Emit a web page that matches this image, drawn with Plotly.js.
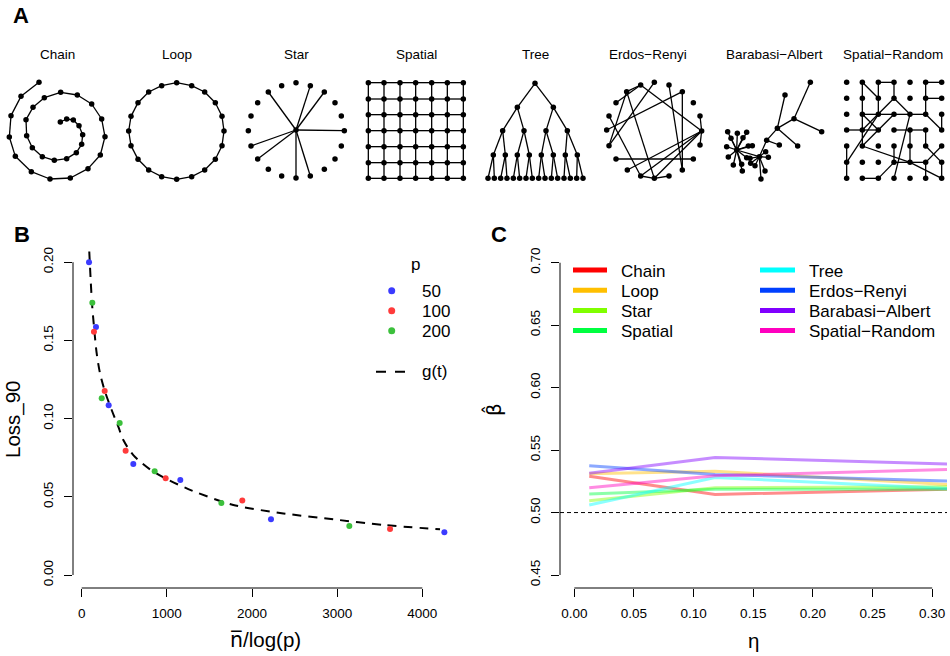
<!DOCTYPE html>
<html><head><meta charset="utf-8">
<script src="https://cdn.plot.ly/plotly-3.0.1.min.js"></script>
<style>html,body{margin:0;padding:0;background:#fff}#chart{width:950px;height:656px}</style>
</head><body><div id="chart"></div>
<script>
// ================= DATA =================
// ---- Panel A: network layouts (node coordinates, local units) ----
const networkNames = ['Chain','Loop','Star','Spatial','Tree','Erdos\u2212Renyi','Barabasi\u2212Albert','Spatial\u2212Random'];

const chainX = [117,63,33,28,46,94,150,211,264,301,315,305,275,232,182,133,99,78,80,97,127,163,200,229,245,248,237,220,200,181];
const chainY = [22,64,122,186,244,290,312,309,281,240,185,132,87,60,52,68,97,134,182,218,245,256,251,233,208,179,152,135,132,141];

const loopX = [530,575,614,646,666,672,666,646,614,575,530,485,446,414,393,386,393,414,446,485];
const loopY = [248,257,276,308,349,393,437,478,510,530,538,530,510,478,437,393,349,308,276,257];

const starX = [168,168,211,253,285,304,313,304,285,253,211,168,125,85,53,33,25,33,53,85,125];
const starY = [270,128,137,156,188,228,272,318,357,388,408,414,408,388,357,318,272,228,188,156,137];
const starEdges = [[0,19],[0,2],[0,3],[0,6],[0,15],[0,14],[0,11],[0,10]];

const spatialCols = [385,432,480,527,575,622,670];
const spatialRows = [128,177,224,272,320,368,415];

const treeX = [165,112,220,68,132,198,262,40,76,112,148,184,220,256,292,
               24,43,62,81,100,119,138,157,176,195,214,233,252,271,290,309];
const treeY = [130,202,202,272,272,272,272,345,345,345,345,345,345,345,345,
               415,415,415,415,415,415,415,415,415,415,415,415,415,415,415,415];
const treeParent = [-1,0,0,1,1,2,2,3,3,4,4,5,5,6,6,7,7,8,8,9,9,10,10,11,11,12,12,13,13,14,14];

const erX = [122,163,207,247,280,300,305,300,280,247,207,163,122,82,48,27,20,27,48,80];
const erY = [30,22,30,50,83,123,168,210,252,285,303,310,303,285,252,212,165,123,83,50];
const erEdges = [[0,6],[0,18],[0,19],[19,11],[19,15],[1,15],[2,9],[3,9],[3,16],[5,6],[6,7],
                 [6,13],[6,12],[6,11],[14,8],[17,12],[12,11],[11,10]];

const baX = [65,133,155,187,237,286,320,210,248,193,38,67,95,48,84,35,100,112,40,55,80,95,105,107,120,152,160,150,138,82];
const baY = [225,245,196,160,131,22,170,60,213,210,170,175,172,190,188,215,213,212,246,270,268,248,250,265,272,230,247,288,312,288];
const baEdges = [[0,1],[1,2],[2,3],[3,4],[4,5],[4,6],[3,7],[3,8],[2,9],
  [0,10],[0,11],[0,12],[0,13],[0,14],[0,15],[0,16],[0,17],[0,18],[0,19],[0,20],[0,21],[0,29],
  [1,22],[1,23],[1,24],[1,25],[1,26],[1,27],[1,28]];

const srCols = [35,82,130,177,225,272,320];
const srRows = [22,70,118,165,213,262,310];
const srEdges = [ // [col,row] pairs
  [[2,0],[3,0]],[[5,0],[6,0]],[[1,0],[1,1]],[[1,0],[2,1]],[[2,0],[2,1]],[[3,0],[3,1]],[[5,0],[5,1]],[[5,1],[6,1]],
  [[1,1],[1,2]],[[2,1],[2,2]],[[3,1],[1,3]],[[3,1],[4,2]],[[5,1],[5,2]],
  [[1,2],[2,2]],[[2,2],[3,2]],[[3,2],[4,2]],[[4,2],[5,2]],[[1,2],[2,3]],[[5,2],[6,3]],[[6,2],[6,3]],[[1,2],[1,3]],
  [[0,3],[1,3]],[[1,3],[2,3]],[[3,3],[4,3]],[[4,3],[5,3]],[[1,3],[1,4]],[[4,3],[4,4]],[[4,4],[4,5]],[[5,3],[5,4]],
  [[0,4],[0,5]],[[0,5],[0,6]],[[0,5],[2,2]],[[1,4],[3,2]],[[1,4],[4,5]],[[3,4],[3,5]],[[5,4],[6,5]],[[6,4],[5,5]],[[4,2],[3,6]],
  [[3,5],[4,5]],[[4,5],[5,5]],[[5,5],[5,6]],[[1,6],[2,6]],[[2,6],[3,5]],[[4,5],[6,6]],[[6,5],[6,6]]
];

// ---- Panel B ----
const pLevels = ['50','100','200'];
const pColors = ['#3b3bff','#ff3b3b','#3cc03c'];
const p50X  = [86,168,317,606,1158,2223,4259];
const p50Y  = [0.200,0.1586,0.1085,0.0710,0.0608,0.0356,0.0273];
const p100X = [144,270,516,986,1886,3621];
const p100Y = [0.1556,0.1177,0.0795,0.0618,0.0477,0.0294];
const p200X = [125,235,446,857,1640,3143];
const p200Y = [0.174,0.113,0.0972,0.0663,0.046,0.0313];
const curveT = [89,121,148,176,215,274,352,430,489,606,841,1233,1780,2368,2955,3542,4208];
const curveG = [0.2068,0.1738,0.1567,0.1418,0.129,0.1172,0.1055,0.0949,0.0863,0.0767,0.0661,0.0554,0.0448,0.0394,0.0356,0.032,0.0292];
const curveName = 'g(t)';

// ---- Panel C ----
const cNames = ['Chain','Loop','Star','Spatial','Tree','Erdos\u2212Renyi','Barabasi\u2212Albert','Spatial\u2212Random'];
const cColors = ['#FF0000','#FFBF00','#80FF00','#00FF40','#00FFFF','#0040FF','#8000FF','#FF00BF'];
const eta = [0.0125,0.118,0.3125];
const betaChain   = [0.529,0.5145,0.5186];
const betaLoop    = [0.531,0.533,0.5225];
const betaStar    = [0.5095,0.5199,0.5207];
const betaSpatial = [0.5148,0.5186,0.5186];
const betaTree    = [0.506,0.5281,0.5193];
const betaER      = [0.5375,0.5305,0.5252];
const betaBA      = [0.5314,0.5441,0.5388];
const betaSR      = [0.5199,0.5295,0.5345];
const refBeta = 0.5;

// ================= LAYOUT HELPERS =================
const FONT = 'Liberation Sans, Arial, Helvetica, sans-serif';
const W = 950, H = 656;
const X = px => px / W, Y = py => 1 - py / H;
const ZOOM = 3;
const cells = [[0,118],[118,237],[237,356],[356,475],[475,594],[594,713],[713,832],[832,950]];
const cellTop = 66, cellBot = 192;
const frames = [[0,75],[0,0],[240,40],[240,40],[480,40],[600,75],[715,75],[835,75]];
const titleCenters = [57,177,296,416,535,648,774,893];

function seqEdges(n, closed){ const e=[]; for(let i=0;i<n-1;i++) e.push([i,i+1]); if(closed) e.push([n-1,0]); return e; }
function grid(cols, rows){ const x=[],y=[]; rows.forEach(r=>cols.forEach(c=>{x.push(c);y.push(r);})); return {x,y}; }
function gridEdges(nc, nr){ const e=[]; for(let r=0;r<nr;r++) for(let c=0;c<nc;c++){ const i=r*nc+c; if(c<nc-1) e.push([i,i+1]); if(r<nr-1) e.push([i,i+nc]); } return e; }

const spG = grid(spatialCols, spatialRows);
const srG = grid(srCols, srRows);
const networks = [
  {x:chainX, y:chainY, edges:seqEdges(chainX.length,false)},
  {x:loopX, y:loopY, edges:seqEdges(loopX.length,true)},
  {x:starX, y:starY, edges:starEdges},
  {x:spG.x, y:spG.y, edges:gridEdges(spatialCols.length, spatialRows.length)},
  {x:treeX, y:treeY, edges:treeParent.map((p,i)=>[p,i]).filter(e=>e[0]>=0)},
  {x:erX, y:erY, edges:erEdges},
  {x:baX, y:baY, edges:baEdges},
  {x:srG.x, y:srG.y, edges:srEdges.map(([a,b])=>[a[1]*srCols.length+a[0], b[1]*srCols.length+b[0]])}
];

const traces = [];
const layout = {
  width: W, height: H, margin:{l:0,r:0,t:0,b:0},
  paper_bgcolor:'#fff', plot_bgcolor:'rgba(0,0,0,0)', showlegend:false,
  font:{family:FONT, color:'#000'}, annotations:[], shapes:[]
};

networks.forEach((net,k)=>{
  const n = k+1, xs = n===1?'':String(n);
  const [c0,c1] = cells[k], [ox,oy] = frames[k];
  layout['xaxis'+xs] = {domain:[X(c0),X(c1)], range:[ZOOM*(c0-ox), ZOOM*(c1-ox)], visible:false, fixedrange:true};
  layout['yaxis'+xs] = {domain:[Y(cellBot),Y(cellTop)], range:[ZOOM*(cellBot-oy), ZOOM*(cellTop-oy)], visible:false, fixedrange:true};
  const ex=[], ey=[];
  net.edges.forEach(([a,b])=>{ ex.push(net.x[a],net.x[b],null); ey.push(net.y[a],net.y[b],null); });
  traces.push({type:'scatter', mode:'lines', x:ex, y:ey, xaxis:'x'+xs, yaxis:'y'+xs,
    line:{color:'#000', width:1.3}, hoverinfo:'skip'});
  traces.push({type:'scatter', mode:'markers', x:net.x, y:net.y, xaxis:'x'+xs, yaxis:'y'+xs,
    marker:{color:'#000', size:5.5}, cliponaxis:false, hoverinfo:'skip'});
  layout.annotations.push({xref:'paper', yref:'paper', x:X(titleCenters[k]), y:Y(54.5), text:networkNames[k],
    showarrow:false, xanchor:'center', yanchor:'middle', font:{family:FONT, size:13.5, color:'#000'}});
});

// data axes
const tickFont = {family:FONT, size:13.5, color:'#000'};
function dataAxis(o){ return Object.assign({showgrid:false, zeroline:false, showline:false, ticks:'outside', ticklen:8,
  tickwidth:1, tickcolor:'#000', tick0:0, tickfont:tickFont, autorange:false, fixedrange:true}, o); }
layout.xaxis9  = dataAxis({domain:[X(73),X(458)], range:[-102,4419], dtick:1000, tickformat:'d', anchor:'y9', ticklabelstandoff:5});
layout.yaxis9  = dataAxis({domain:[Y(588),Y(250)], range:[-0.0083,0.2078], dtick:0.05, tickformat:'.2f', anchor:'x9', tickangle:-90, ticklabelstandoff:6});
layout.xaxis10 = dataAxis({domain:[X(560),X(947)], range:[-0.012,0.3124], dtick:0.05, tickformat:'.2f', anchor:'y10', ticklabelstandoff:5});
layout.yaxis10 = dataAxis({domain:[Y(588),Y(250)], range:[0.4396,0.7102], dtick:0.05, tickformat:'.2f', anchor:'x10', tickangle:-90, ticklabelstandoff:6});

// Panel B traces
traces.push({type:'scatter', mode:'lines', x:curveT, y:curveG, xaxis:'x9', yaxis:'y9', name:curveName,
  line:{color:'#000', width:2, dash:'9px,7px', shape:'spline', smoothing:0.8}, hoverinfo:'skip'});
[[p50X,p50Y],[p100X,p100Y],[p200X,p200Y]].forEach(([xx,yy],i)=>{
  traces.push({type:'scatter', mode:'markers', x:xx, y:yy, xaxis:'x9', yaxis:'y9', name:pLevels[i],
    marker:{color:pColors[i], size:6}, cliponaxis:false});
});

// Panel C traces
const cSeries = [betaChain,betaLoop,betaStar,betaSpatial,betaTree,betaER,betaBA,betaSR];
function rgba(hex,a){ const v=parseInt(hex.slice(1),16); return `rgba(${v>>16},${(v>>8)&255},${v&255},${a})`; }
cSeries.forEach((s,i)=>{
  traces.push({type:'scatter', mode:'lines', x:eta, y:s, xaxis:'x10', yaxis:'y10', name:cNames[i],
    line:{color:rgba(cColors[i],0.45), width:3}});
});

// axis lines (R style, spanning first to last tick)
const ln = {color:'#000', width:1};
layout.shapes.push(
  {type:'line', xref:'x9', yref:'paper', x0:0, x1:4000, y0:Y(588), y1:Y(588), line:ln},
  {type:'line', xref:'paper', yref:'y9', x0:X(73), x1:X(73), y0:0, y1:0.2, line:ln},
  {type:'line', xref:'x10', yref:'paper', x0:0, x1:0.3, y0:Y(588), y1:Y(588), line:ln},
  {type:'line', xref:'paper', yref:'y10', x0:X(560), x1:X(560), y0:0.45, y1:0.7, line:ln},
  {type:'line', xref:'x10 domain', yref:'y10', x0:0, x1:1, y0:refBeta, y1:refBeta, line:{color:'#000', width:1, dash:'4px,3px'}}
);

// Panel B legend (manual, R style)
const legFont = {family:FONT, size:17, color:'#000'};
function ann(x,y,text,o){ layout.annotations.push(Object.assign({xref:'paper', yref:'paper', x:X(x), y:Y(y), text,
  showarrow:false, xanchor:'left', yanchor:'middle', font:legFont}, o||{})); }
ann(415, 264, 'p', {xanchor:'center'});
pLevels.forEach((lab,i)=>{
  const yy = 290.7 + 20*i;
  layout.shapes.push({type:'circle', xref:'paper', yref:'paper', xsizemode:'pixel', ysizemode:'pixel',
    xanchor:X(391.7), yanchor:Y(yy), x0:-3.5, x1:3.5, y0:-3.5, y1:3.5, fillcolor:pColors[i], line:{width:0}});
  ann(420, yy+0.5, lab);
});
layout.shapes.push({type:'line', xref:'paper', yref:'paper', x0:X(376), x1:X(407), y0:Y(371.7), y1:Y(371.7),
  line:{color:'#000', width:2, dash:'10px,9px'}});
ann(420, 372, curveName);

// Panel C legend (two columns)
cNames.forEach((nm,i)=>{
  const col = Math.floor(i/4), row = i%4;
  const yy = 270 + 20.2*row;
  const lx0 = col===0 ? 573 : 760, lx1 = col===0 ? 607 : 795, tx = col===0 ? 619 : 806.5;
  layout.shapes.push({type:'line', xref:'paper', yref:'paper', x0:X(lx0), x1:X(lx1), y0:Y(yy), y1:Y(yy),
    line:{color:cColors[i], width:5}});
  ann(tx, yy+1, nm);
});

// panel letters & axis titles
const big = {family:FONT, size:22, color:'#000'};
ann(21, 15.4, '<b>A</b>', {xanchor:'center', font:big});
ann(21.5, 234.4, '<b>B</b>', {xanchor:'center', font:big});
ann(499.5, 234.4, '<b>C</b>', {xanchor:'center', font:big});
const tf = {family:FONT, size:20.5, color:'#000'};
const tfMath = {family:'DejaVu Sans, sans-serif', size:20, color:'#000'};
ann(13, 419, 'Loss_90', {xanchor:'center', textangle:-90, font:tf});
ann(265.5, 640, '<span style="font-family:\'DejaVu Sans\'">n\u0305</span>/log(p)', {xanchor:'center', font:tf});
ann(493, 410, '\u03B2\u0302', {xanchor:'center', textangle:-90, font:tfMath});
ann(753.5, 640.4, '\u03B7', {xanchor:'center', font:tf});

Plotly.newPlot('chart', traces, layout, {displayModeBar:false, staticPlot:true});
</script>
</body></html>
